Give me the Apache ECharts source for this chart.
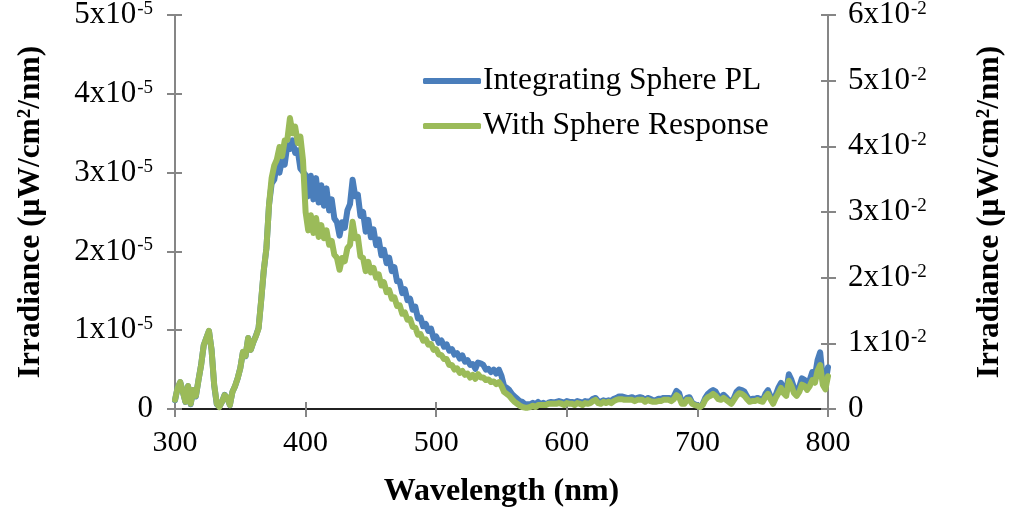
<!DOCTYPE html>
<html><head><meta charset="utf-8">
<script src="https://cdn.jsdelivr.net/npm/echarts@6/dist/echarts.min.js"></script>
<style>html,body{margin:0;padding:0;background:#fff}#c{width:1010px;height:510px}</style>
</head><body><div id="c"></div>
<script>
// Wavelength (nm)
const wavelengths = [300,302,304,306,308,310,312,314,316,318,320,322,324,326,328,330,332,334,336,338,340,342,344,346,348,350,352,354,356,358,360,362,364,366,368,370,372,374,376,378,380,382,384,386,388,390,392,394,396,398,400,402,404,406,408,410,412,414,416,418,420,422,424,426,428,430,432,434,436,438,440,442,444,446,448,450,452,454,456,458,460,462,464,466,468,470,472,474,476,478,480,482,484,486,488,490,492,494,496,498,500,502,504,506,508,510,512,514,516,518,520,522,524,526,528,530,532,534,536,538,540,542,544,546,548,550,552,554,556,558,560,562,564,566,568,570,572,574,576,578,580,582,584,586,588,590,592,594,596,598,600,602,604,606,608,610,612,614,616,618,620,622,624,626,628,630,632,634,636,638,640,642,644,646,648,650,652,654,656,658,660,662,664,666,668,670,672,674,676,678,680,682,684,686,688,690,692,694,696,698,700,702,704,706,708,710,712,714,716,718,720,722,724,726,728,730,732,734,736,738,740,742,744,746,748,750,752,754,756,758,760,762,764,766,768,770,772,774,776,778,780,782,784,786,788,790,792,794,796,798,800];
// Integrating Sphere PL, in units of 1x10^-5 uW/cm^2/nm (left axis)
const spherePL = [0.11,0.27,0.34,0.22,0.09,0.29,0.06,0.24,0.16,0.37,0.56,0.81,0.90,0.99,0.75,0.30,0.06,0.03,0.09,0.18,0.14,0.05,0.22,0.29,0.39,0.52,0.72,0.67,0.90,0.75,0.85,0.93,1.03,1.38,1.76,2.04,2.59,
2.86,2.91,3.10,3.00,3.16,3.10,3.35,3.30,3.41,3.25,3.28,3.05,3.01,
2.97,2.70,2.96,2.66,2.93,2.62,2.84,2.58,2.80,2.52,2.66,2.42,2.37,2.20,2.37,2.30,2.52,2.60,2.91,2.70,2.72,2.45,2.50,2.25,2.40,2.18,2.28,2.08,2.15,1.95,2.02,1.85,1.92,1.75,1.80,1.62,1.62,1.47,1.52,1.38,1.40,1.26,1.30,1.15,1.16,1.05,1.08,0.99,1.02,0.90,0.92,0.84,0.87,0.79,0.82,0.74,0.76,0.69,0.71,0.64,0.68,0.60,0.62,0.56,0.57,0.51,0.59,0.58,0.56,0.50,0.51,0.47,0.50,0.45,0.50,0.42,
0.29,0.27,0.24,0.19,0.16,0.13,0.10,0.09,0.06,0.06,0.06,0.08,0.06,0.09,
0.06,0.08,0.06,0.08,0.09,0.08,0.09,0.10,0.09,0.08,0.10,0.09,0.09,0.08,0.10,0.09,0.08,0.10,0.09,0.10,0.13,0.14,0.10,0.09,0.11,0.10,0.11,0.10,0.13,0.14,0.16,0.16,0.15,0.14,0.14,0.15,0.13,0.14,0.15,0.14,0.11,0.14,0.13,0.11,0.11,0.13,0.13,0.14,0.14,0.14,0.13,0.16,0.23,0.20,0.09,0.09,0.14,0.15,0.08,0.06,0.05,0.03,0.06,0.14,0.19,0.22,0.24,0.22,0.16,0.15,0.18,0.15,0.11,0.09,0.14,0.22,0.25,0.24,0.22,0.16,0.11,0.13,0.13,0.14,0.13,0.11,0.19,0.24,0.16,0.09,0.18,0.27,0.33,0.27,0.22,0.44,0.37,0.27,0.22,0.28,0.39,0.37,0.30,0.37,0.47,0.42,0.62,0.72,0.39,0.33,0.53];
// With Sphere Response, in units of 1x10^-2 uW/cm^2/nm (right axis)
const withResponse = [0.14,0.32,0.41,0.26,0.11,0.35,0.08,0.29,0.20,0.44,0.67,0.97,1.08,1.19,0.90,0.37,0.08,0.03,0.11,0.21,0.17,0.06,0.26,0.35,0.47,0.62,0.87,0.81,1.08,0.90,1.02,1.11,1.23,1.66,2.12,2.45,3.11,
3.52,3.71,3.80,3.99,3.85,4.09,4.10,4.43,4.20,4.30,4.05,4.15,3.79,
3.00,2.72,2.95,2.68,2.91,2.62,2.80,2.60,2.72,2.50,2.56,2.35,2.30,2.12,2.30,2.25,2.45,2.50,2.85,2.60,2.62,2.32,2.30,2.10,2.24,2.08,2.15,2.00,2.05,1.88,1.93,1.78,1.81,1.68,1.70,1.57,1.58,1.45,1.47,1.36,1.37,1.25,1.24,1.13,1.14,1.04,1.06,0.98,0.99,0.90,0.91,0.83,0.82,0.76,0.76,0.67,0.67,0.60,0.62,0.55,0.58,0.52,0.54,0.48,0.52,0.46,0.53,0.48,0.48,0.44,0.45,0.41,0.42,0.38,0.41,0.35,
0.26,0.23,0.20,0.15,0.11,0.08,0.05,0.03,0.02,0.02,0.03,0.05,0.03,0.06,
0.06,0.06,0.06,0.08,0.08,0.08,0.08,0.09,0.08,0.06,0.09,0.08,0.08,0.06,0.09,0.08,0.06,0.09,0.08,0.09,0.12,0.14,0.09,0.08,0.11,0.09,0.11,0.09,0.12,0.14,0.15,0.15,0.14,0.14,0.14,0.14,0.12,0.14,0.14,0.14,0.11,0.14,0.12,0.11,0.11,0.12,0.12,0.14,0.14,0.14,0.12,0.15,0.21,0.18,0.08,0.08,0.14,0.14,0.08,0.06,0.05,0.03,0.06,0.14,0.18,0.20,0.23,0.20,0.15,0.14,0.17,0.14,0.11,0.08,0.14,0.20,0.24,0.23,0.20,0.15,0.11,0.12,0.12,0.14,0.12,0.11,0.18,0.23,0.15,0.08,0.17,0.24,0.32,0.24,0.20,0.43,0.35,0.24,0.20,0.26,0.37,0.35,0.29,0.35,0.44,0.40,0.58,0.67,0.37,0.30,0.50];
const xTicks = [300,400,500,600,700,800];
const leftTickMantissas = [0,1,2,3,4,5];
const rightTickMantissas = [0,1,2,3,4,5,6];
const seriesNames = ['Integrating Sphere PL','With Sphere Response'];
const yTitle = 'Irradiance (μW/cm²/nm)';
const xTitle = 'Wavelength (nm)';

const FONT = '"Liberation Serif","Times New Roman",serif';
const AXIS_GREY = '#868686';
const chart = echarts.init(document.getElementById('c'), null, {renderer:'canvas'});
const rich = {
  m:{fontFamily:FONT,fontSize:31,color:'#000'},
  s:{fontFamily:FONT,fontSize:19,color:'#000',verticalAlign:'top',padding:[0,0,0,1]}
};
function sciFmt(exp){return v => v===0 ? '{m|0}' : '{m|'+v+'x10}{s|'+exp+'}';}
const baseY = {type:'value',splitLine:{show:false}};
chart.setOption({
  animation:false,
  backgroundColor:'#fff',
  grid:{left:175,right:182,top:15,bottom:101,containLabel:false,outerBoundsMode:'none'},
  legend:{
    orient:'vertical',left:418,top:57,itemGap:7,
    icon:'roundRect',itemWidth:58,itemHeight:6,
    textStyle:{fontFamily:FONT,fontSize:31.5,color:'#000',lineHeight:38,padding:[0,0,0,-3]},
    data:seriesNames
  },
  xAxis:[
    {type:'value',min:300,max:800,interval:100,position:'bottom',
     axisLine:{lineStyle:{color:AXIS_GREY,width:2}},
     axisTick:{show:true,inside:false,length:8,lineStyle:{color:AXIS_GREY,width:2}},
     axisLabel:{fontFamily:FONT,fontSize:30,color:'#000',margin:19,formatter:v=>xTicks.includes(v)?String(v):''},
     splitLine:{show:false},
     name:xTitle,nameLocation:'middle',nameGap:67,
     nameTextStyle:{fontFamily:FONT,fontSize:32,fontWeight:'bold',color:'#000'}},
    {type:'value',min:300,max:800,interval:100,position:'bottom',
     axisLine:{show:false},axisTick:{show:true,inside:true,length:7,lineStyle:{color:AXIS_GREY,width:2}},
     axisLabel:{show:false},splitLine:{show:false}},
    {type:'value',min:300,max:800,position:'top',
     axisLine:{show:true,lineStyle:{color:'#000',width:1.5}},axisTick:{show:false},
     axisLabel:{show:false},splitLine:{show:false}}
  ],
  yAxis:[
    Object.assign({},baseY,{min:0,max:5,interval:1,position:'left',
     axisLine:{show:true,lineStyle:{color:AXIS_GREY,width:2}},
     axisTick:{show:true,inside:false,length:8,lineStyle:{color:AXIS_GREY,width:2}},
     axisLabel:{margin:22,formatter:v=>leftTickMantissas.includes(v)?sciFmt('-5')(v):'',rich:rich},
     name:yTitle,nameLocation:'middle',nameRotate:90,nameGap:128,
     nameTextStyle:{fontFamily:FONT,fontSize:31.5,fontWeight:'bold',color:'#000'}}),
    Object.assign({},baseY,{min:0,max:6,interval:1,position:'right',
     axisLine:{show:true,lineStyle:{color:AXIS_GREY,width:2}},
     axisTick:{show:true,inside:false,length:8,lineStyle:{color:AXIS_GREY,width:2}},
     axisLabel:{margin:20,formatter:v=>rightTickMantissas.includes(v)?sciFmt('-2')(v):'',rich:rich},
     name:yTitle,nameLocation:'middle',nameRotate:90,nameGap:146,
     nameTextStyle:{fontFamily:FONT,fontSize:31.5,fontWeight:'bold',color:'#000'}}),
    Object.assign({},baseY,{min:0,max:5,interval:1,position:'left',
     axisLine:{show:false},axisTick:{show:true,inside:true,length:7,lineStyle:{color:AXIS_GREY,width:2}},
     axisLabel:{show:false}}),
    Object.assign({},baseY,{min:0,max:6,interval:1,position:'right',
     axisLine:{show:false},axisTick:{show:true,inside:true,length:7,lineStyle:{color:AXIS_GREY,width:2}},
     axisLabel:{show:false}})
  ],
  series:[
    {name:seriesNames[0],type:'line',xAxisIndex:0,yAxisIndex:0,showSymbol:false,symbol:'none',
     data:wavelengths.map((w,i)=>[w,spherePL[i]]),
     lineStyle:{color:'#4A7EBB',width:6,cap:'round',join:'round'},itemStyle:{color:'#4A7EBB'},z:2},
    {name:seriesNames[1],type:'line',xAxisIndex:0,yAxisIndex:1,showSymbol:false,symbol:'none',
     data:wavelengths.map((w,i)=>[w,withResponse[i]]),
     lineStyle:{color:'#9BBB59',width:6,cap:'round',join:'round'},itemStyle:{color:'#9BBB59'},z:3}
  ]
});
</script>
</body></html>
